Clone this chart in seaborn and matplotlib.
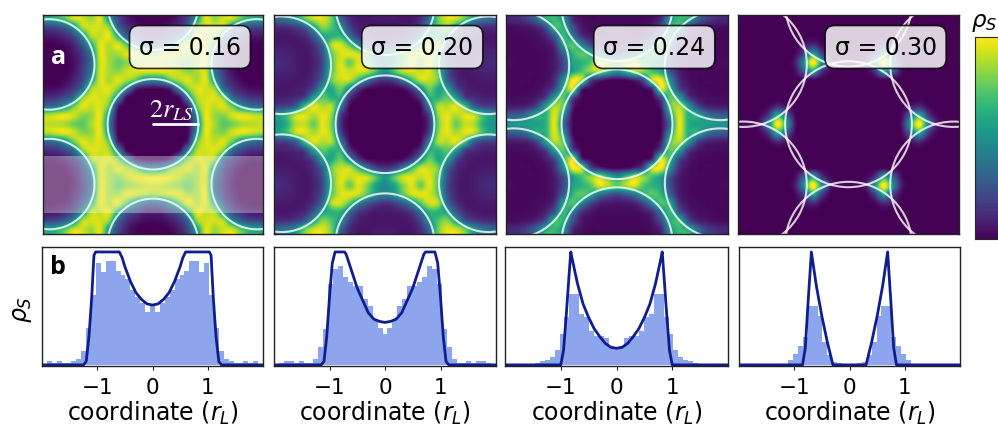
import numpy as np
import matplotlib
matplotlib.use('Agg')
import matplotlib.pyplot as plt
import seaborn as sns

sigmas = ['σ = 0.16', 'σ = 0.20', 'σ = 0.24', 'σ = 0.30']

# quarter of each density map (percent), rows go down and columns go right from the middle
map_016 = [
    [0, 0, 0, 0, 2, 42, 92, 84, 72, 76, 84, 86, 87],
    [0, 0, 0, 0, 3, 50, 93, 82, 80, 90, 93, 90, 85],
    [0, 0, 0, 0, 10, 72, 92, 88, 92, 75, 50, 38, 34],
    [0, 0, 0, 3, 45, 85, 90, 92, 78, 35, 22, 15, 13],
    [2, 3, 10, 45, 78, 92, 90, 82, 35, 17, 8, 4, 3],
    [45, 50, 72, 85, 92, 84, 92, 52, 22, 9, 2, 0, 0],
    [92, 93, 92, 88, 80, 84, 90, 40, 17, 5, 0, 0, 0],
    [90, 88, 84, 80, 74, 84, 90, 36, 15, 4, 0, 0, 0],
    [82, 85, 90, 92, 84, 84, 92, 40, 17, 6, 0, 0, 0],
    [30, 34, 48, 72, 93, 86, 92, 60, 27, 10, 3, 1, 0],
    [10, 11, 20, 30, 60, 93, 88, 85, 48, 22, 12, 7, 6],
    [2, 3, 7, 15, 33, 80, 90, 90, 85, 48, 30, 22, 20],
    [0, 0, 2, 8, 22, 52, 92, 82, 90, 90, 72, 60, 55],
]
map_020 = [
    [0, 0, 0, 0, 0, 15, 75, 93, 75, 88, 85, 62, 50],
    [0, 0, 0, 0, 1, 20, 80, 93, 85, 92, 88, 65, 52],
    [0, 0, 0, 0, 3, 42, 85, 85, 92, 70, 32, 20, 18],
    [0, 0, 0, 2, 16, 60, 62, 72, 55, 20, 12, 9, 8],
    [0, 1, 3, 16, 45, 75, 58, 55, 22, 10, 7, 6, 6],
    [15, 20, 40, 65, 88, 88, 75, 32, 13, 7, 6, 7, 7],
    [50, 70, 88, 92, 88, 92, 70, 26, 10, 6, 7, 9, 10],
    [45, 55, 78, 92, 75, 92, 68, 22, 9, 6, 7, 10, 12],
    [42, 50, 70, 88, 93, 90, 72, 26, 10, 6, 7, 9, 10],
    [14, 18, 28, 45, 70, 90, 85, 35, 14, 7, 6, 7, 7],
    [7, 7, 10, 16, 36, 62, 62, 55, 28, 12, 8, 6, 6],
    [5, 5, 6, 9, 20, 50, 70, 80, 55, 28, 18, 13, 12],
    [7, 7, 5, 6, 12, 33, 75, 92, 90, 75, 50, 40, 34],
]
map_024 = [
    [0, 0, 0, 0, 0, 2, 35, 93, 62, 55, 55, 52, 50],
    [0, 0, 0, 0, 0, 3, 50, 92, 62, 60, 40, 30, 28],
    [0, 0, 0, 0, 0, 10, 70, 85, 55, 22, 10, 8, 7],
    [0, 0, 0, 0, 2, 25, 72, 55, 18, 7, 4, 3, 3],
    [0, 0, 0, 2, 15, 90, 62, 22, 8, 3, 2, 2, 2],
    [2, 3, 10, 25, 85, 95, 48, 13, 4, 2, 2, 2, 2],
    [50, 65, 85, 80, 68, 55, 25, 8, 3, 2, 2, 2, 2],
    [72, 85, 92, 70, 62, 55, 22, 7, 3, 2, 2, 2, 3],
    [22, 28, 38, 60, 72, 62, 30, 8, 3, 2, 2, 2, 2],
    [6, 7, 10, 22, 45, 70, 55, 14, 5, 3, 2, 2, 2],
    [3, 3, 3, 6, 14, 40, 65, 28, 10, 4, 3, 2, 2],
    [2, 2, 2, 3, 7, 25, 60, 65, 25, 10, 6, 4, 3],
    [2, 2, 2, 2, 4, 12, 50, 65, 60, 35, 20, 13, 11],
]
map_030 = [
    [0, 0, 0, 0, 0, 0, 5, 55, 100, 45, 8, 2, 0],
    [0, 0, 0, 0, 0, 0, 2, 30, 60, 18, 2, 0, 0],
    [0, 0, 0, 0, 0, 0, 0, 5, 12, 2, 0, 0, 0],
    [0, 0, 0, 0, 0, 0, 0, 0, 0, 0, 0, 0, 0],
    [0, 0, 0, 0, 0, 0, 0, 0, 0, 0, 0, 0, 0],
    [0, 0, 0, 0, 0, 0, 0, 0, 0, 0, 0, 0, 0],
    [0, 0, 2, 15, 55, 30, 4, 0, 0, 0, 0, 0, 0],
    [0, 0, 8, 50, 100, 50, 8, 0, 0, 0, 0, 0, 0],
    [0, 0, 0, 18, 55, 20, 2, 0, 0, 0, 0, 0, 0],
    [0, 0, 0, 2, 12, 6, 0, 0, 0, 0, 0, 0, 0],
    [0, 0, 0, 0, 0, 0, 0, 0, 0, 0, 0, 0, 0],
    [0, 0, 0, 0, 0, 0, 0, 0, 0, 0, 0, 0, 0],
    [0, 0, 0, 0, 0, 0, 0, 0, 0, 0, 0, 0, 0],
]
maps = [map_016, map_020, map_024, map_030]

# disc radius and lattice spacing, in the units of the coordinate axis
disc_radius = [0.825, 0.89, 1.0, 1.147]
lattice_step = [2.18, 2.15, 2.15, 2.196]

# histograms, right half from the middle bin outwards
hist_016 = [.53, .47, .55, .60, .66, .76, .80, .83, .92, .92, .82, .90, .62, .33, .12, .05, .03, .02, .015, .03, .02, .03, .01]
hist_020 = [.27, .33, .40, .52, .58, .70, .70, .73, .78, .88, .85, .72, .32, .16, .05, .02, .015, .03, .02, .03, .03, .02, .01]
hist_024 = [.15, .17, .24, .26, .26, .30, .42, .45, .63, .63, .42, .27, .13, .07, .04, .03, .02, .01, .005, .005, .005, .005, .005]
hist_030 = [.005, .01, .02, .025, .09, .20, .43, .52, .52, .25, .17, .10, .04, .01, 0, 0, 0, 0, 0, 0, 0, 0, 0]
hists = [hist_016, hist_020, hist_024, hist_030]

# profile lines, right half
line_x_016 = [0, .1, .2, .3, .4, .5, .55, .6, 1.03, 1.06, 1.1, 1.15, 1.2, 1.25, 2]
line_y_016 = [.53, .54, .58, .64, .74, .87, .95, 1, 1, .97, .6, .25, .03, 0, 0]
line_x_020 = [0, .1, .2, .3, .4, .5, .6, .7, .73, .9, .95, 1.0, 1.05, 1.1, 1.15, 2]
line_y_020 = [.376, .385, .405, .46, .57, .68, .83, .98, 1, 1, .9, .6, .25, .03, 0, 0]
line_x_024 = [0, .1, .2, .3, .4, .5, .6, .7, .8, .82, .85, .9, .95, 1.0, 2]
line_y_024 = [.147, .155, .19, .25, .32, .42, .54, .72, .95, 1, .8, .45, .13, 0, 0]
line_x_030 = [0, .3, .4, .5, .6, .69, .75, .8, .85, 2]
line_y_030 = [0, 0, .2, .43, .7, 1, .55, .15, 0, 0]
lines = [(line_x_016, line_y_016), (line_x_020, line_y_020), (line_x_024, line_y_024), (line_x_030, line_y_030)]

top_boxes = [(43, 263), (274, 496), (506, 728), (738, 959)]
bottom_boxes = [(42, 263), (274, 496), (505, 728), (739, 960)]

W, H = 998, 427


def px_axes(x0, x1, y0, y1):
    return fig.add_axes([x0 / W, 1 - y1 / H, (x1 - x0) / W, (y1 - y0) / H])


sns.set_style('white', {'text.color': 'black', 'axes.labelcolor': 'black', 'xtick.color': 'black'})
plt.rcParams['font.family'] = ['DejaVu Sans']
viridis = sns.color_palette('viridis', as_cmap=True)
fig = plt.figure(figsize=(W / 100, H / 100), dpi=100)

for i in range(4):
    ax = px_axes(top_boxes[i][0], top_boxes[i][1], 15.5, 235)
    q = np.array(maps[i]) / 100
    right = np.hstack([q[:, :0:-1], q])
    full = np.vstack([right[:0:-1], right])
    im = ax.imshow(full, cmap=viridis, vmin=0, vmax=0.97, extent=[-2, 2, -2, 2], interpolation='catrom', aspect='auto')

    r = disc_radius[i]
    a = lattice_step[i]
    dx = a * np.sqrt(3) / 2
    for cx, cy in [(0, 0), (0, a), (0, -a), (dx, a / 2), (dx, -a / 2), (-dx, a / 2), (-dx, -a / 2)]:
        ax.add_patch(plt.Circle((cx, cy), r, fill=False, ec='white', lw=1.5, alpha=0.8))
    ax.set_xlim(-2, 2)
    ax.set_ylim(-2, 2)
    ax.set_xticks([])
    ax.set_yticks([])
    ax.text(0.668, 0.852, sigmas[i], transform=ax.transAxes, fontsize=17, ha='center', va='center', zorder=5,
            bbox=dict(boxstyle='round,pad=0.4', fc='white', ec='black', alpha=0.82, lw=1.2))
    for s in ax.spines.values():
        s.set_color('#222222')
        s.set_linewidth(1)

    if i == 0:
        ax.axhspan(-1.62, -0.58, color='white', alpha=0.33, lw=0)
        ax.plot([0, r], [0, 0], color='white', lw=2)
        ax.text(0.33, 0.03, r'$2r_{LS}$', color='white', fontsize=19, ha='center', va='bottom', math_fontfamily='stix')
        ax.text(0.07, 0.81, 'a', color='white', fontsize=18, fontweight='bold', family='Open Sans', ha='center', va='center', transform=ax.transAxes)

    bx = px_axes(bottom_boxes[i][0], bottom_boxes[i][1], 248, 367)
    bin_w = 4 / 45
    centers = np.arange(-22, 23) * bin_w
    edges = np.arange(-22.5, 23) * bin_w
    half = np.array(hists[i])
    heights = np.concatenate([half[:0:-1], half])
    sns.histplot(x=centers, weights=heights, bins=edges.tolist(), color='royalblue', alpha=0.6, linewidth=0, ax=bx)
    lx = np.array(lines[i][0])
    ly = np.array(lines[i][1])
    sns.lineplot(x=np.concatenate([-lx[:0:-1], lx]), y=np.concatenate([ly[:0:-1], ly]), color='#101d8f', lw=2, errorbar=None, ax=bx)
    bx.set_xlim(-2, 2)
    bx.set_ylim(-0.01, 1.044)
    bx.set_xticks([-1, 0, 1])
    bx.set_yticks([])
    bx.set_ylabel('')
    bx.set_xlabel('coordinate ($r_L$)', fontsize=17, labelpad=1)
    bx.tick_params(axis='x', labelsize=15.5, length=3, pad=5, bottom=True, color='#222222')
    for s in bx.spines.values():
        s.set_color('#222222')
        s.set_linewidth(1)
    if i == 0:
        bx.text(0.07, 0.84, 'b', color='black', fontsize=18, fontweight='bold', family='Open Sans', ha='center', va='center', transform=bx.transAxes)

fig.text(22 / W, 1 - 310 / H, r'$\rho_S$', fontsize=17, rotation=90, ha='center', va='center')
fig.text(984 / W, 1 - 23 / H, r'$\rho_S$', fontsize=16.5, ha='center', va='center')

cax = px_axes(975, 1010, 38, 240)
cb = fig.colorbar(im, cax=cax)
cb.set_ticks([])
cb.outline.set_linewidth(0.8)

fig.savefig('out.png', dpi=100)
